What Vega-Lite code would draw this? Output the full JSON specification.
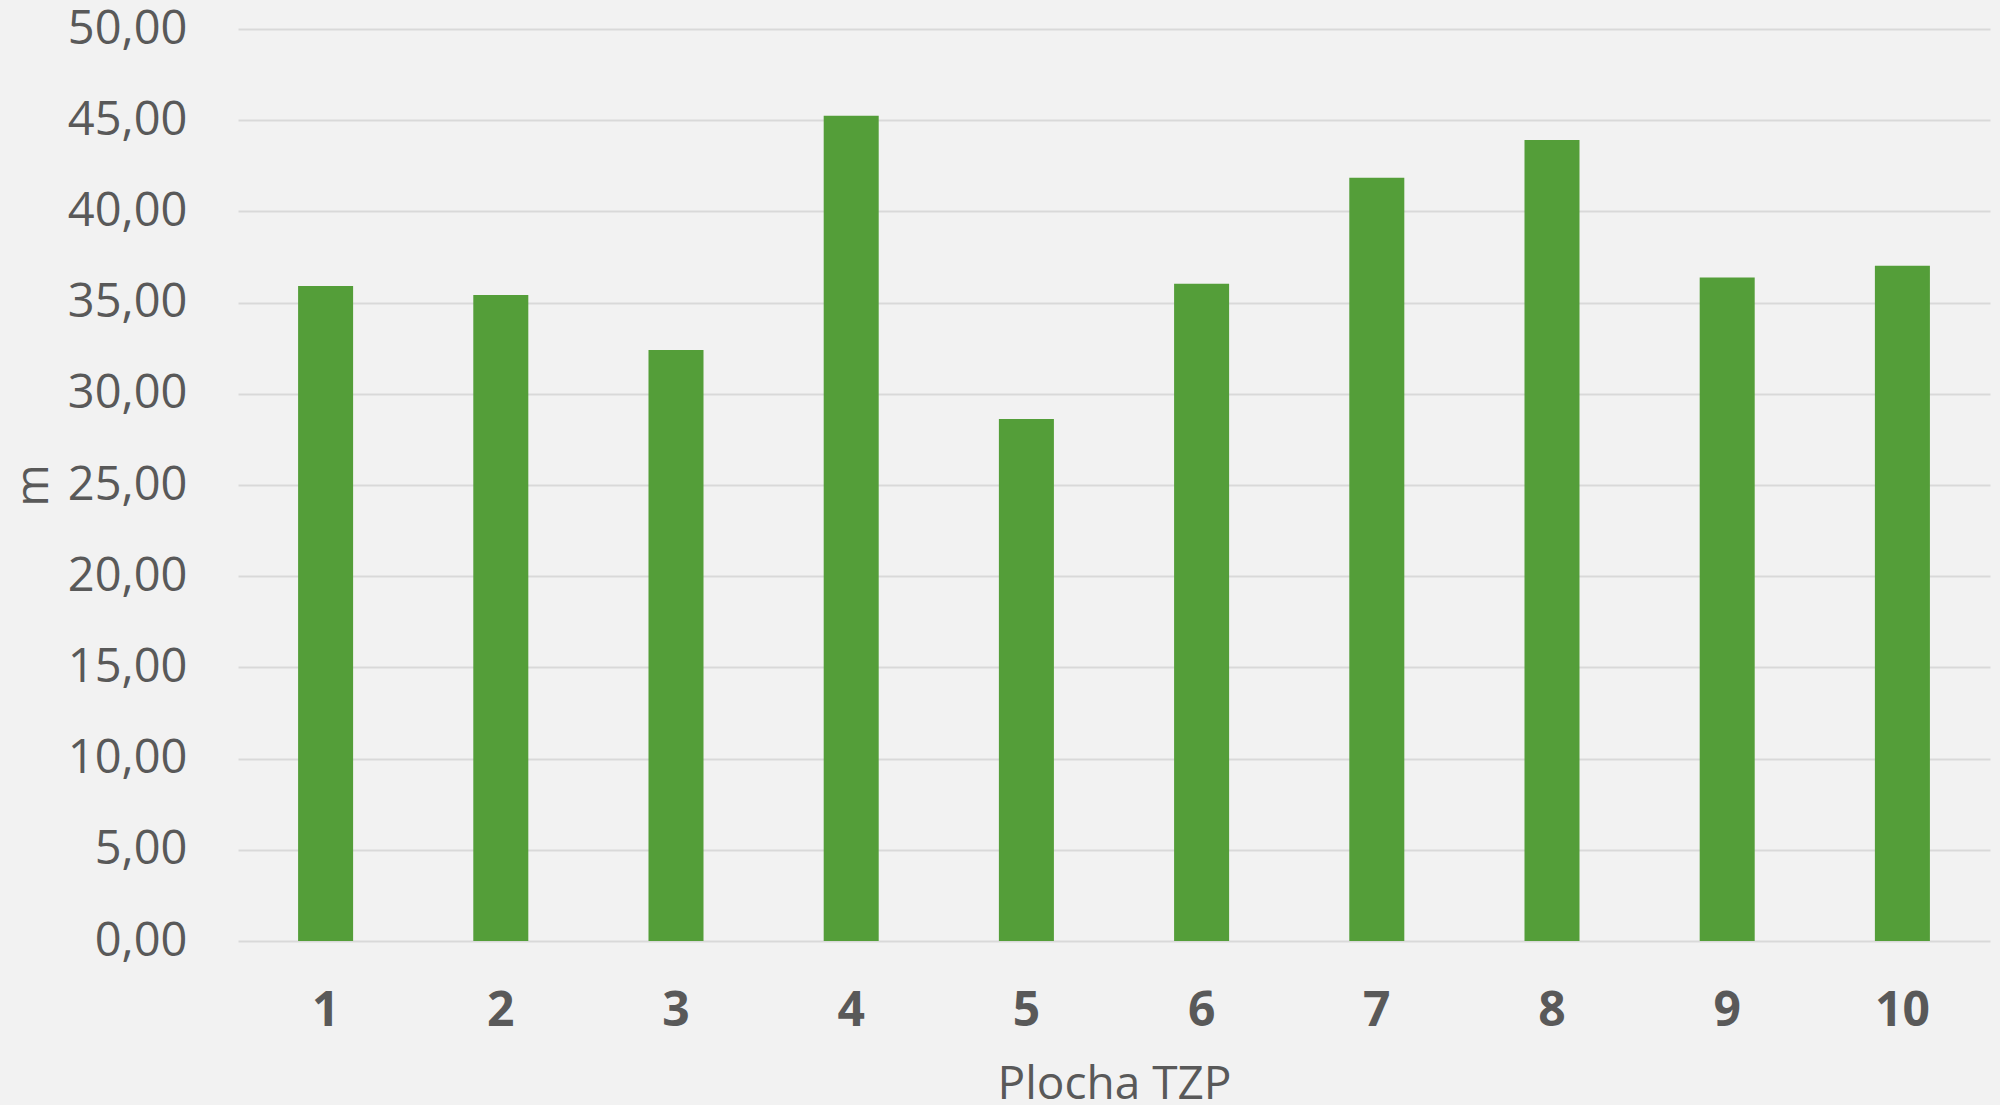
{
  "$schema": "https://vega.github.io/schema/vega-lite/v6.json",
  "width": 1752,
  "height": 912,
  "autosize": {"type": "none"},
  "padding": {"left": 238, "top": 29, "right": 10, "bottom": 164},
  "background": "#f2f2f2",
  "config": {
    "view": {"stroke": null},
    "font": "Open Sans"
  },
  "data": {
    "values": [
      {"plocha": "1", "m": 35.91},
      {"plocha": "2", "m": 35.42},
      {"plocha": "3", "m": 32.40},
      {"plocha": "4", "m": 45.25},
      {"plocha": "5", "m": 28.62},
      {"plocha": "6", "m": 36.04},
      {"plocha": "7", "m": 41.85},
      {"plocha": "8", "m": 43.91},
      {"plocha": "9", "m": 36.37},
      {"plocha": "10", "m": 37.02}
    ]
  },
  "mark": {"type": "bar", "color": "#549E39"},
  "encoding": {
    "x": {
      "field": "plocha",
      "type": "ordinal",
      "sort": null,
      "scale": {"paddingInner": 0.686, "paddingOuter": 0.343},
      "axis": {
        "title": "Plocha TZP",
        "labelAngle": 0,
        "labelFont": "Open Sans",
        "labelFontSize": 48,
        "labelFontWeight": "bold",
        "labelColor": "#595959",
        "labelPadding": 46,
        "labelBaseline": "top",
        "ticks": false,
        "domain": false,
        "grid": false,
        "titleFont": "Open Sans",
        "titleFontSize": 46,
        "titleFontWeight": "normal",
        "titleColor": "#595959",
        "titleBaseline": "alphabetic",
        "titleX": 876,
        "titleY": 157,
        "titleAnchor": null
      }
    },
    "y": {
      "field": "m",
      "type": "quantitative",
      "scale": {"domain": [0, 50], "nice": false},
      "axis": {
        "title": "m",
        "values": [0, 5, 10, 15, 20, 25, 30, 35, 40, 45, 50],
        "labelExpr": "replace(format(datum.value, '.2f'), '.', ',')",
        "labelFont": "Open Sans",
        "labelFontSize": 47,
        "labelColor": "#595959",
        "labelPadding": 51,
        "ticks": false,
        "domain": false,
        "grid": true,
        "gridColor": "#d9d9d9",
        "gridWidth": 2,
        "titleFont": "Open Sans",
        "titleFontSize": 46,
        "titleFontWeight": "normal",
        "titleColor": "#595959",
        "titleAngle": -90,
        "titleBaseline": "middle",
        "titleAlign": "center",
        "titleX": -205,
        "titleY": 456
      }
    }
  }
}
